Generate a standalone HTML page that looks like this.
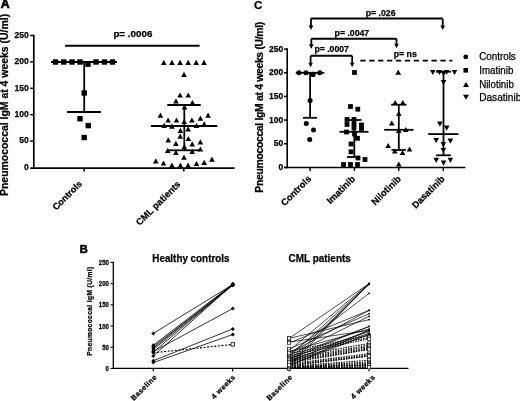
<!DOCTYPE html>
<html><head><meta charset="utf-8"><style>
html,body{margin:0;padding:0;background:#fff;width:520px;height:401px;overflow:hidden}
svg{display:block;filter:grayscale(1)}
text{font-family:"Liberation Sans", sans-serif;fill:#000;stroke:#000;stroke-width:0.25px}
</style></head><body>
<svg width="520" height="401" viewBox="0 0 520 401">
<rect width="520" height="401" fill="#fff"/>
<text x="0.70" y="8.10" font-size="12.2" font-weight="bold" text-anchor="start" style="stroke-width:0.7px">A</text>
<text transform="translate(7.90,196.00) rotate(-90)" font-size="10.45" font-weight="bold" text-anchor="start">Pneumococcal IgM at 4 weeks (U/ml)</text>
<line x1="33.80" y1="34.70" x2="33.80" y2="169.00" stroke="#000" stroke-width="1.7" stroke-linecap="butt"/>
<line x1="30.20" y1="168.10" x2="234.60" y2="168.10" stroke="#000" stroke-width="1.9" stroke-linecap="butt"/>
<text x="28.70" y="169.80" font-size="8.5" font-weight="bold" text-anchor="end">0</text>
<line x1="30.20" y1="141.10" x2="33.80" y2="141.10" stroke="#000" stroke-width="1.5" stroke-linecap="butt"/>
<text x="28.70" y="143.40" font-size="8.5" font-weight="bold" text-anchor="end">50</text>
<line x1="30.20" y1="114.70" x2="33.80" y2="114.70" stroke="#000" stroke-width="1.5" stroke-linecap="butt"/>
<text x="28.70" y="117.00" font-size="8.5" font-weight="bold" text-anchor="end">100</text>
<line x1="30.20" y1="88.30" x2="33.80" y2="88.30" stroke="#000" stroke-width="1.5" stroke-linecap="butt"/>
<text x="28.70" y="90.60" font-size="8.5" font-weight="bold" text-anchor="end">150</text>
<line x1="30.20" y1="61.90" x2="33.80" y2="61.90" stroke="#000" stroke-width="1.5" stroke-linecap="butt"/>
<text x="28.70" y="64.20" font-size="8.5" font-weight="bold" text-anchor="end">200</text>
<line x1="30.20" y1="35.50" x2="33.80" y2="35.50" stroke="#000" stroke-width="1.5" stroke-linecap="butt"/>
<text x="28.70" y="37.80" font-size="8.5" font-weight="bold" text-anchor="end">250</text>
<line x1="84.20" y1="168.00" x2="84.20" y2="171.60" stroke="#000" stroke-width="1.6" stroke-linecap="butt"/>
<line x1="183.80" y1="168.00" x2="183.80" y2="171.60" stroke="#000" stroke-width="1.6" stroke-linecap="butt"/>
<text transform="translate(82.60,184.40) rotate(-45)" font-size="9.1" font-weight="bold" text-anchor="end">Controls</text>
<text transform="translate(181.00,184.80) rotate(-45)" font-size="9.3" font-weight="bold" text-anchor="end">CML patients</text>
<line x1="65.00" y1="45.70" x2="199.60" y2="45.70" stroke="#000" stroke-width="1.9" stroke-linecap="butt"/>
<text x="113.40" y="37.20" font-size="9.8" font-weight="bold" text-anchor="start">p= .0006</text>
<line x1="51.00" y1="62.00" x2="117.00" y2="62.00" stroke="#000" stroke-width="1.8" stroke-linecap="butt"/>
<line x1="84.20" y1="62.00" x2="84.20" y2="112.00" stroke="#000" stroke-width="1.8" stroke-linecap="butt"/>
<line x1="67.00" y1="112.00" x2="100.80" y2="112.00" stroke="#000" stroke-width="1.8" stroke-linecap="butt"/>
<rect x="52.80" y="59.30" width="5.4" height="5.4"/>
<rect x="61.05" y="59.30" width="5.4" height="5.4"/>
<rect x="69.30" y="59.30" width="5.4" height="5.4"/>
<rect x="77.30" y="59.30" width="5.4" height="5.4"/>
<rect x="93.30" y="59.30" width="5.4" height="5.4"/>
<rect x="101.80" y="59.30" width="5.4" height="5.4"/>
<rect x="109.80" y="59.30" width="5.4" height="5.4"/>
<rect x="85.30" y="61.50" width="5.4" height="5.4"/>
<rect x="81.50" y="90.30" width="5.4" height="5.4"/>
<rect x="77.30" y="116.05" width="5.4" height="5.4"/>
<rect x="85.55" y="122.90" width="5.4" height="5.4"/>
<rect x="81.50" y="134.80" width="5.4" height="5.4"/>
<line x1="167.30" y1="105.00" x2="200.70" y2="105.00" stroke="#000" stroke-width="1.8" stroke-linecap="butt"/>
<line x1="150.80" y1="126.00" x2="217.30" y2="126.00" stroke="#000" stroke-width="1.8" stroke-linecap="butt"/>
<line x1="168.00" y1="150.30" x2="200.00" y2="150.30" stroke="#000" stroke-width="1.8" stroke-linecap="butt"/>
<line x1="184.30" y1="105.00" x2="184.30" y2="150.30" stroke="#000" stroke-width="1.8" stroke-linecap="butt"/>
<path d="M161.00 64.90L163.80 59.70L166.60 64.90Z"/>
<path d="M169.10 64.90L171.90 59.70L174.70 64.90Z"/>
<path d="M177.30 64.90L180.10 59.70L182.90 64.90Z"/>
<path d="M185.40 64.90L188.20 59.70L191.00 64.90Z"/>
<path d="M193.40 64.90L196.20 59.70L199.00 64.90Z"/>
<path d="M201.20 64.90L204.00 59.70L206.80 64.90Z"/>
<path d="M181.20 76.90L184.00 71.70L186.80 76.90Z"/>
<path d="M177.30 97.60L180.10 92.40L182.90 97.60Z"/>
<path d="M185.40 97.60L188.20 92.40L191.00 97.60Z"/>
<path d="M173.20 103.40L176.00 98.20L178.80 103.40Z"/>
<path d="M189.60 105.10L192.40 99.90L195.20 105.10Z"/>
<path d="M181.70 109.50L184.50 104.30L187.30 109.50Z"/>
<path d="M157.60 117.70L160.40 112.50L163.20 117.70Z"/>
<path d="M205.30 117.70L208.10 112.50L210.90 117.70Z"/>
<path d="M165.30 122.60L168.10 117.40L170.90 122.60Z"/>
<path d="M173.70 122.60L176.50 117.40L179.30 122.60Z"/>
<path d="M189.10 122.60L191.90 117.40L194.70 122.60Z"/>
<path d="M197.60 120.80L200.40 115.60L203.20 120.80Z"/>
<path d="M181.40 124.10L184.20 118.90L187.00 124.10Z"/>
<path d="M161.40 128.00L164.20 122.80L167.00 128.00Z"/>
<path d="M169.10 128.80L171.90 123.60L174.70 128.80Z"/>
<path d="M193.70 128.00L196.50 122.80L199.30 128.00Z"/>
<path d="M201.40 126.40L204.20 121.20L207.00 126.40Z"/>
<path d="M177.60 132.90L180.40 127.70L183.20 132.90Z"/>
<path d="M185.30 131.40L188.10 126.20L190.90 131.40Z"/>
<path d="M177.40 138.70L180.20 133.50L183.00 138.70Z"/>
<path d="M185.60 141.10L188.40 135.90L191.20 141.10Z"/>
<path d="M165.40 142.50L168.20 137.30L171.00 142.50Z"/>
<path d="M173.10 145.90L175.90 140.70L178.70 145.90Z"/>
<path d="M189.40 146.40L192.20 141.20L195.00 146.40Z"/>
<path d="M197.60 144.40L200.40 139.20L203.20 144.40Z"/>
<path d="M181.50 149.20L184.30 144.00L187.10 149.20Z"/>
<path d="M164.90 153.10L167.70 147.90L170.50 153.10Z"/>
<path d="M173.10 155.00L175.90 149.80L178.70 155.00Z"/>
<path d="M189.40 154.00L192.20 148.80L195.00 154.00Z"/>
<path d="M197.60 151.60L200.40 146.40L203.20 151.60Z"/>
<path d="M181.20 159.80L184.00 154.60L186.80 159.80Z"/>
<path d="M153.00 163.40L155.80 158.20L158.60 163.40Z"/>
<path d="M160.70 165.60L163.50 160.40L166.30 165.60Z"/>
<path d="M169.10 167.80L171.90 162.60L174.70 167.80Z"/>
<path d="M177.60 167.80L180.40 162.60L183.20 167.80Z"/>
<path d="M185.30 167.80L188.10 162.60L190.90 167.80Z"/>
<path d="M193.70 166.10L196.50 160.90L199.30 166.10Z"/>
<path d="M201.40 164.90L204.20 159.70L207.00 164.90Z"/>
<path d="M209.10 161.80L211.90 156.60L214.70 161.80Z"/>
<text x="254.00" y="9.20" font-size="11.6" font-weight="bold" text-anchor="start">C</text>
<text transform="translate(263.10,192.70) rotate(-90)" font-size="10.4" font-weight="bold" text-anchor="start" textLength="171" lengthAdjust="spacing">Pneumococcal IgM at 4 weeks (U/ml)</text>
<line x1="287.20" y1="48.30" x2="287.20" y2="168.30" stroke="#000" stroke-width="1.6" stroke-linecap="butt"/>
<line x1="284.00" y1="167.50" x2="465.40" y2="167.50" stroke="#000" stroke-width="1.6" stroke-linecap="butt"/>
<line x1="284.00" y1="167.40" x2="287.20" y2="167.40" stroke="#000" stroke-width="1.5" stroke-linecap="butt"/>
<text x="283.30" y="170.10" font-size="8.5" font-weight="bold" text-anchor="end">0</text>
<line x1="284.00" y1="143.74" x2="287.20" y2="143.74" stroke="#000" stroke-width="1.5" stroke-linecap="butt"/>
<text x="283.30" y="146.44" font-size="8.5" font-weight="bold" text-anchor="end">50</text>
<line x1="284.00" y1="120.08" x2="287.20" y2="120.08" stroke="#000" stroke-width="1.5" stroke-linecap="butt"/>
<text x="283.30" y="122.78" font-size="8.5" font-weight="bold" text-anchor="end">100</text>
<line x1="284.00" y1="96.42" x2="287.20" y2="96.42" stroke="#000" stroke-width="1.5" stroke-linecap="butt"/>
<text x="283.30" y="99.12" font-size="8.5" font-weight="bold" text-anchor="end">150</text>
<line x1="284.00" y1="72.76" x2="287.20" y2="72.76" stroke="#000" stroke-width="1.5" stroke-linecap="butt"/>
<text x="283.30" y="75.46" font-size="8.5" font-weight="bold" text-anchor="end">200</text>
<line x1="284.00" y1="49.10" x2="287.20" y2="49.10" stroke="#000" stroke-width="1.5" stroke-linecap="butt"/>
<text x="283.30" y="51.80" font-size="8.5" font-weight="bold" text-anchor="end">250</text>
<line x1="310.10" y1="167.50" x2="310.10" y2="171.00" stroke="#000" stroke-width="1.4" stroke-linecap="butt"/>
<line x1="354.40" y1="167.50" x2="354.40" y2="171.00" stroke="#000" stroke-width="1.4" stroke-linecap="butt"/>
<line x1="398.80" y1="167.50" x2="398.80" y2="171.00" stroke="#000" stroke-width="1.4" stroke-linecap="butt"/>
<line x1="443.30" y1="167.50" x2="443.30" y2="171.00" stroke="#000" stroke-width="1.4" stroke-linecap="butt"/>
<text transform="translate(311.80,179.40) rotate(-45)" font-size="9.3" font-weight="bold" text-anchor="end">Controls</text>
<text transform="translate(355.70,179.40) rotate(-45)" font-size="9.3" font-weight="bold" text-anchor="end">Imatinib</text>
<text transform="translate(401.50,179.40) rotate(-45)" font-size="9.3" font-weight="bold" text-anchor="end">Nilotinib</text>
<text transform="translate(445.30,179.40) rotate(-45)" font-size="9.3" font-weight="bold" text-anchor="end">Dasatinib</text>
<line x1="311.00" y1="18.50" x2="442.70" y2="18.50" stroke="#000" stroke-width="1.9" stroke-linecap="butt"/>
<line x1="311.00" y1="18.50" x2="311.00" y2="25.90" stroke="#000" stroke-width="1.8" stroke-linecap="butt"/>
<path d="M308.70 25.40L311.00 30.00L313.30 25.40Z"/>
<line x1="442.70" y1="18.50" x2="442.70" y2="25.90" stroke="#000" stroke-width="1.8" stroke-linecap="butt"/>
<path d="M440.40 25.40L442.70 30.00L445.00 25.40Z"/>
<line x1="311.30" y1="38.70" x2="396.50" y2="38.70" stroke="#000" stroke-width="1.9" stroke-linecap="butt"/>
<line x1="311.30" y1="38.70" x2="311.30" y2="44.70" stroke="#000" stroke-width="1.8" stroke-linecap="butt"/>
<path d="M309.00 44.20L311.30 48.80L313.60 44.20Z"/>
<line x1="396.50" y1="38.70" x2="396.50" y2="44.20" stroke="#000" stroke-width="1.8" stroke-linecap="butt"/>
<path d="M394.20 43.70L396.50 48.30L398.80 43.70Z"/>
<line x1="310.60" y1="55.80" x2="352.20" y2="55.80" stroke="#000" stroke-width="1.9" stroke-linecap="butt"/>
<line x1="310.60" y1="55.80" x2="310.60" y2="63.20" stroke="#000" stroke-width="1.8" stroke-linecap="butt"/>
<path d="M308.30 62.70L310.60 67.30L312.90 62.70Z"/>
<line x1="352.20" y1="55.80" x2="352.20" y2="63.20" stroke="#000" stroke-width="1.8" stroke-linecap="butt"/>
<path d="M349.90 62.70L352.20 67.30L354.50 62.70Z"/>
<text x="365.80" y="15.60" font-size="8.7" font-weight="bold" text-anchor="start">p= .026</text>
<text x="334.60" y="35.80" font-size="8.7" font-weight="bold" text-anchor="start">p= .0047</text>
<text x="314.40" y="52.10" font-size="8.7" font-weight="bold" text-anchor="start">p= .0007</text>
<text x="393.80" y="57.00" font-size="8.7" font-weight="bold" text-anchor="start">p= ns</text>
<line x1="360.30" y1="60.70" x2="452.40" y2="60.70" stroke="#000" stroke-width="1.8" stroke-linecap="butt" stroke-dasharray="5.3,3.6"/>
<line x1="295.80" y1="72.80" x2="324.40" y2="72.80" stroke="#000" stroke-width="1.8" stroke-linecap="butt"/>
<line x1="310.10" y1="72.80" x2="310.10" y2="117.80" stroke="#000" stroke-width="1.8" stroke-linecap="butt"/>
<line x1="302.90" y1="117.80" x2="317.00" y2="117.80" stroke="#000" stroke-width="1.8" stroke-linecap="butt"/>
<circle cx="298.9" cy="72.8" r="2.5"/>
<circle cx="305.9" cy="72.8" r="2.5"/>
<circle cx="319.8" cy="72.8" r="2.5"/>
<circle cx="313" cy="74.4" r="2.7"/>
<circle cx="310.1" cy="100.4" r="2.5"/>
<circle cx="306.3" cy="123.5" r="2.5"/>
<circle cx="313.5" cy="130" r="2.5"/>
<circle cx="309.7" cy="139.6" r="2.5"/>
<line x1="347.00" y1="120.00" x2="361.50" y2="120.00" stroke="#000" stroke-width="1.8" stroke-linecap="butt"/>
<line x1="339.50" y1="131.80" x2="368.50" y2="131.80" stroke="#000" stroke-width="1.8" stroke-linecap="butt"/>
<line x1="347.00" y1="157.00" x2="359.00" y2="157.00" stroke="#000" stroke-width="1.8" stroke-linecap="butt"/>
<line x1="354.30" y1="120.00" x2="354.30" y2="157.00" stroke="#000" stroke-width="1.8" stroke-linecap="butt"/>
<rect x="352.10" y="70.10" width="4.8" height="4.8"/>
<rect x="348.10" y="104.10" width="4.8" height="4.8"/>
<rect x="355.40" y="106.80" width="4.8" height="4.8"/>
<rect x="344.60" y="117.10" width="4.8" height="4.8"/>
<rect x="351.60" y="117.10" width="4.8" height="4.8"/>
<rect x="344.60" y="122.10" width="4.8" height="4.8"/>
<rect x="351.60" y="121.60" width="4.8" height="4.8"/>
<rect x="351.60" y="125.60" width="4.8" height="4.8"/>
<rect x="359.10" y="122.60" width="4.8" height="4.8"/>
<rect x="359.10" y="126.10" width="4.8" height="4.8"/>
<rect x="344.10" y="129.60" width="4.8" height="4.8"/>
<rect x="352.10" y="131.60" width="4.8" height="4.8"/>
<rect x="355.10" y="135.90" width="4.8" height="4.8"/>
<rect x="348.60" y="141.60" width="4.8" height="4.8"/>
<rect x="348.60" y="149.40" width="4.8" height="4.8"/>
<rect x="355.60" y="155.60" width="4.8" height="4.8"/>
<rect x="362.60" y="157.10" width="4.8" height="4.8"/>
<rect x="341.10" y="162.10" width="4.8" height="4.8"/>
<rect x="348.10" y="162.10" width="4.8" height="4.8"/>
<rect x="355.10" y="162.10" width="4.8" height="4.8"/>
<line x1="391.20" y1="104.70" x2="406.50" y2="104.70" stroke="#000" stroke-width="1.8" stroke-linecap="butt"/>
<line x1="384.20" y1="129.80" x2="413.50" y2="129.80" stroke="#000" stroke-width="1.8" stroke-linecap="butt"/>
<line x1="391.50" y1="150.00" x2="405.80" y2="150.00" stroke="#000" stroke-width="1.8" stroke-linecap="butt"/>
<line x1="398.80" y1="104.70" x2="398.80" y2="150.00" stroke="#000" stroke-width="1.8" stroke-linecap="butt"/>
<path d="M395.40 74.70L398.20 69.50L401.00 74.70Z"/>
<path d="M392.40 105.10L395.20 99.90L398.00 105.10Z"/>
<path d="M400.00 105.10L402.80 99.90L405.60 105.10Z"/>
<path d="M396.00 116.10L398.80 110.90L401.60 116.10Z"/>
<path d="M389.00 125.60L391.80 120.40L394.60 125.60Z"/>
<path d="M403.00 132.10L405.80 126.90L408.60 132.10Z"/>
<path d="M396.00 133.10L398.80 127.90L401.60 133.10Z"/>
<path d="M385.40 148.10L388.20 142.90L391.00 148.10Z"/>
<path d="M392.00 153.60L394.80 148.40L397.60 153.60Z"/>
<path d="M399.70 155.10L402.50 149.90L405.30 155.10Z"/>
<path d="M406.70 151.60L409.50 146.40L412.30 151.60Z"/>
<path d="M396.00 166.60L398.80 161.40L401.60 166.60Z"/>
<line x1="436.00" y1="71.70" x2="451.00" y2="71.70" stroke="#000" stroke-width="1.8" stroke-linecap="butt"/>
<line x1="428.20" y1="134.10" x2="458.40" y2="134.10" stroke="#000" stroke-width="1.8" stroke-linecap="butt"/>
<line x1="436.20" y1="155.30" x2="450.80" y2="155.30" stroke="#000" stroke-width="1.8" stroke-linecap="butt"/>
<line x1="443.50" y1="71.70" x2="443.50" y2="155.30" stroke="#000" stroke-width="1.8" stroke-linecap="butt"/>
<path d="M430.00 69.90L432.80 75.10L435.60 69.90Z"/>
<path d="M436.70 69.90L439.50 75.10L442.30 69.90Z"/>
<path d="M443.70 69.90L446.50 75.10L449.30 69.90Z"/>
<path d="M451.70 69.90L454.50 75.10L457.30 69.90Z"/>
<path d="M440.70 70.90L443.50 76.10L446.30 70.90Z"/>
<path d="M440.70 79.90L443.50 85.10L446.30 79.90Z"/>
<path d="M437.10 121.50L439.90 126.70L442.70 121.50Z"/>
<path d="M443.90 125.60L446.70 130.80L449.50 125.60Z"/>
<path d="M433.40 137.90L436.20 143.10L439.00 137.90Z"/>
<path d="M447.60 138.60L450.40 143.80L453.20 138.60Z"/>
<path d="M440.50 142.10L443.30 147.30L446.10 142.10Z"/>
<path d="M440.50 147.90L443.30 153.10L446.10 147.90Z"/>
<path d="M433.40 157.80L436.20 163.00L439.00 157.80Z"/>
<path d="M440.80 160.60L443.60 165.80L446.40 160.60Z"/>
<path d="M447.60 157.80L450.40 163.00L453.20 157.80Z"/>
<circle cx="465.75" cy="56.9" r="2.4"/>
<text x="479.20" y="60.40" font-size="10.1" text-anchor="start" textLength="36.6" lengthAdjust="spacingAndGlyphs">Controls</text>
<rect x="463.45" y="68.00" width="4.6" height="4.6"/>
<text x="479.20" y="73.70" font-size="10.1" text-anchor="start" textLength="34.2" lengthAdjust="spacingAndGlyphs">Imatinib</text>
<path d="M463.00 87.00L466.00 82.00L469.00 87.00Z"/>
<text x="479.20" y="87.80" font-size="10.1" text-anchor="start" textLength="34.6" lengthAdjust="spacingAndGlyphs">Nilotinib</text>
<path d="M463.00 94.70L466.00 99.70L469.00 94.70Z"/>
<text x="479.20" y="100.50" font-size="10.1" text-anchor="start">Dasatinib</text>
<text x="79.60" y="252.70" font-size="11.6" font-weight="bold" text-anchor="start" style="stroke-width:0.45px">B</text>
<text transform="translate(92.20,355.80) rotate(-90)" font-size="6.6" font-weight="bold" text-anchor="start" letter-spacing="0.4">Pneumococcal IgM (U/ml)</text>
<line x1="113.30" y1="261.77" x2="113.30" y2="368.90" stroke="#000" stroke-width="1.3" stroke-linecap="butt"/>
<line x1="113.30" y1="368.30" x2="408.40" y2="368.30" stroke="#000" stroke-width="1.3" stroke-linecap="butt"/>
<line x1="110.60" y1="368.50" x2="113.30" y2="368.50" stroke="#000" stroke-width="1.1" stroke-linecap="butt"/>
<text transform="translate(108.9,371.00) scale(0.86,1)" font-size="7" font-weight="bold" text-anchor="end">0</text>
<line x1="110.60" y1="347.27" x2="113.30" y2="347.27" stroke="#000" stroke-width="1.1" stroke-linecap="butt"/>
<text transform="translate(108.9,349.77) scale(0.86,1)" font-size="7" font-weight="bold" text-anchor="end">50</text>
<line x1="110.60" y1="326.05" x2="113.30" y2="326.05" stroke="#000" stroke-width="1.1" stroke-linecap="butt"/>
<text transform="translate(108.9,328.55) scale(0.86,1)" font-size="7" font-weight="bold" text-anchor="end">100</text>
<line x1="110.60" y1="304.82" x2="113.30" y2="304.82" stroke="#000" stroke-width="1.1" stroke-linecap="butt"/>
<text transform="translate(108.9,307.32) scale(0.86,1)" font-size="7" font-weight="bold" text-anchor="end">150</text>
<line x1="110.60" y1="283.60" x2="113.30" y2="283.60" stroke="#000" stroke-width="1.1" stroke-linecap="butt"/>
<text transform="translate(108.9,286.10) scale(0.86,1)" font-size="7" font-weight="bold" text-anchor="end">200</text>
<line x1="110.60" y1="262.38" x2="113.30" y2="262.38" stroke="#000" stroke-width="1.1" stroke-linecap="butt"/>
<text transform="translate(108.9,264.88) scale(0.86,1)" font-size="7" font-weight="bold" text-anchor="end">250</text>
<line x1="153.30" y1="368.30" x2="153.30" y2="371.60" stroke="#000" stroke-width="1.1" stroke-linecap="butt"/>
<line x1="232.60" y1="368.30" x2="232.60" y2="371.60" stroke="#000" stroke-width="1.1" stroke-linecap="butt"/>
<line x1="289.10" y1="368.30" x2="289.10" y2="371.60" stroke="#000" stroke-width="1.1" stroke-linecap="butt"/>
<line x1="369.10" y1="368.30" x2="369.10" y2="371.60" stroke="#000" stroke-width="1.1" stroke-linecap="butt"/>
<text x="152.30" y="261.50" font-size="10.4" font-weight="bold" text-anchor="start" textLength="77.2" lengthAdjust="spacingAndGlyphs">Healthy controls</text>
<text x="288.60" y="261.70" font-size="10.4" font-weight="bold" text-anchor="start" textLength="62.2" lengthAdjust="spacingAndGlyphs">CML patients</text>
<text transform="translate(157.30,377.60) rotate(-45)" font-size="7.3" font-weight="bold" text-anchor="end" letter-spacing="0.4">Baseline</text>
<text transform="translate(236.00,377.60) rotate(-45)" font-size="7.3" font-weight="bold" text-anchor="end" letter-spacing="0.4">4 weeks</text>
<text transform="translate(293.00,377.60) rotate(-45)" font-size="7.3" font-weight="bold" text-anchor="end" letter-spacing="0.4">Baseline</text>
<text transform="translate(375.60,377.60) rotate(-45)" font-size="7.3" font-weight="bold" text-anchor="end" letter-spacing="0.4">4 weeks</text>
<line x1="153.40" y1="333.40" x2="232.80" y2="284.50" stroke="#000" stroke-width="0.8" stroke-linecap="butt"/>
<line x1="153.40" y1="345.20" x2="232.80" y2="284.00" stroke="#000" stroke-width="0.8" stroke-linecap="butt"/>
<line x1="153.40" y1="346.60" x2="232.80" y2="285.00" stroke="#000" stroke-width="0.8" stroke-linecap="butt"/>
<line x1="153.40" y1="348.00" x2="232.80" y2="284.30" stroke="#000" stroke-width="0.8" stroke-linecap="butt"/>
<line x1="153.40" y1="349.40" x2="232.80" y2="285.30" stroke="#000" stroke-width="0.8" stroke-linecap="butt"/>
<line x1="153.40" y1="351.50" x2="232.80" y2="308.50" stroke="#000" stroke-width="0.8" stroke-linecap="butt"/>
<line x1="153.40" y1="352.00" x2="232.80" y2="284.80" stroke="#000" stroke-width="0.8" stroke-linecap="butt"/>
<line x1="153.40" y1="355.90" x2="232.80" y2="284.20" stroke="#000" stroke-width="0.8" stroke-linecap="butt"/>
<line x1="153.40" y1="360.70" x2="232.80" y2="328.90" stroke="#000" stroke-width="0.8" stroke-linecap="butt"/>
<line x1="153.40" y1="362.60" x2="232.80" y2="334.50" stroke="#000" stroke-width="0.8" stroke-linecap="butt"/>
<line x1="153.40" y1="352.80" x2="232.80" y2="344.40" stroke="#000" stroke-width="1.1" stroke-linecap="butt" stroke-dasharray="2,1.6"/>
<path d="M151.40 333.40L153.40 331.40L155.40 333.40L153.40 335.40Z"/>
<path d="M230.80 284.50L232.80 282.50L234.80 284.50L232.80 286.50Z"/>
<path d="M151.40 345.20L153.40 343.20L155.40 345.20L153.40 347.20Z"/>
<path d="M230.80 284.00L232.80 282.00L234.80 284.00L232.80 286.00Z"/>
<path d="M151.40 346.60L153.40 344.60L155.40 346.60L153.40 348.60Z"/>
<path d="M230.80 285.00L232.80 283.00L234.80 285.00L232.80 287.00Z"/>
<path d="M151.40 348.00L153.40 346.00L155.40 348.00L153.40 350.00Z"/>
<path d="M230.80 284.30L232.80 282.30L234.80 284.30L232.80 286.30Z"/>
<path d="M151.40 349.40L153.40 347.40L155.40 349.40L153.40 351.40Z"/>
<path d="M230.80 285.30L232.80 283.30L234.80 285.30L232.80 287.30Z"/>
<path d="M151.40 351.50L153.40 349.50L155.40 351.50L153.40 353.50Z"/>
<path d="M230.80 308.50L232.80 306.50L234.80 308.50L232.80 310.50Z"/>
<path d="M151.40 352.00L153.40 350.00L155.40 352.00L153.40 354.00Z"/>
<path d="M230.80 284.80L232.80 282.80L234.80 284.80L232.80 286.80Z"/>
<path d="M151.40 355.90L153.40 353.90L155.40 355.90L153.40 357.90Z"/>
<path d="M230.80 284.20L232.80 282.20L234.80 284.20L232.80 286.20Z"/>
<path d="M151.40 360.70L153.40 358.70L155.40 360.70L153.40 362.70Z"/>
<path d="M230.80 328.90L232.80 326.90L234.80 328.90L232.80 330.90Z"/>
<path d="M151.40 362.60L153.40 360.60L155.40 362.60L153.40 364.60Z"/>
<path d="M230.80 334.50L232.80 332.50L234.80 334.50L232.80 336.50Z"/>
<rect x="231.10" y="342.70" width="3.4" height="3.4" fill="#fff" stroke="#000" stroke-width="0.8"/>
<path d="M151.40 352.80L153.40 350.80L155.40 352.80L153.40 354.80Z"/>
<line x1="289.10" y1="351.52" x2="369.10" y2="335.39" stroke="#000" stroke-width="1.1" stroke-linecap="butt" stroke-dasharray="1.5,1.1"/>
<line x1="289.10" y1="353.64" x2="369.10" y2="337.51" stroke="#000" stroke-width="1.1" stroke-linecap="butt" stroke-dasharray="1.5,1.1"/>
<line x1="289.10" y1="355.76" x2="369.10" y2="338.79" stroke="#000" stroke-width="1.1" stroke-linecap="butt" stroke-dasharray="1.5,1.1"/>
<line x1="289.10" y1="357.46" x2="369.10" y2="343.45" stroke="#000" stroke-width="1.1" stroke-linecap="butt" stroke-dasharray="1.5,1.1"/>
<line x1="289.10" y1="359.16" x2="369.10" y2="345.15" stroke="#000" stroke-width="1.1" stroke-linecap="butt" stroke-dasharray="1.5,1.1"/>
<line x1="289.10" y1="360.43" x2="369.10" y2="346.43" stroke="#000" stroke-width="1.1" stroke-linecap="butt" stroke-dasharray="1.5,1.1"/>
<line x1="289.10" y1="361.28" x2="369.10" y2="347.70" stroke="#000" stroke-width="1.1" stroke-linecap="butt" stroke-dasharray="1.5,1.1"/>
<line x1="289.10" y1="362.13" x2="369.10" y2="348.97" stroke="#000" stroke-width="1.1" stroke-linecap="butt" stroke-dasharray="1.5,1.1"/>
<line x1="289.10" y1="362.98" x2="369.10" y2="349.40" stroke="#000" stroke-width="1.1" stroke-linecap="butt" stroke-dasharray="1.5,1.1"/>
<line x1="289.10" y1="363.83" x2="369.10" y2="353.64" stroke="#000" stroke-width="1.1" stroke-linecap="butt" stroke-dasharray="1.5,1.1"/>
<line x1="289.10" y1="364.68" x2="369.10" y2="354.92" stroke="#000" stroke-width="1.1" stroke-linecap="butt" stroke-dasharray="1.5,1.1"/>
<line x1="289.10" y1="365.53" x2="369.10" y2="355.76" stroke="#000" stroke-width="1.1" stroke-linecap="butt" stroke-dasharray="1.5,1.1"/>
<line x1="289.10" y1="365.95" x2="369.10" y2="356.19" stroke="#000" stroke-width="1.1" stroke-linecap="butt" stroke-dasharray="1.5,1.1"/>
<line x1="289.10" y1="366.38" x2="369.10" y2="360.22" stroke="#000" stroke-width="1.1" stroke-linecap="butt" stroke-dasharray="1.5,1.1"/>
<line x1="289.10" y1="366.80" x2="369.10" y2="361.84" stroke="#000" stroke-width="1.1" stroke-linecap="butt" stroke-dasharray="1.5,1.1"/>
<line x1="289.10" y1="367.23" x2="369.10" y2="363.11" stroke="#000" stroke-width="1.1" stroke-linecap="butt" stroke-dasharray="1.5,1.1"/>
<line x1="289.10" y1="367.44" x2="369.10" y2="364.34" stroke="#000" stroke-width="1.1" stroke-linecap="butt" stroke-dasharray="1.5,1.1"/>
<line x1="289.10" y1="367.65" x2="369.10" y2="364.89" stroke="#000" stroke-width="1.1" stroke-linecap="butt" stroke-dasharray="1.5,1.1"/>
<line x1="289.10" y1="367.86" x2="369.10" y2="365.27" stroke="#000" stroke-width="1.1" stroke-linecap="butt" stroke-dasharray="1.5,1.1"/>
<line x1="289.10" y1="368.08" x2="369.10" y2="366.80" stroke="#000" stroke-width="1.1" stroke-linecap="butt" stroke-dasharray="1.5,1.1"/>
<line x1="289.10" y1="368.29" x2="369.10" y2="366.80" stroke="#000" stroke-width="1.1" stroke-linecap="butt" stroke-dasharray="1.5,1.1"/>
<line x1="289.10" y1="368.50" x2="369.10" y2="367.23" stroke="#000" stroke-width="1.1" stroke-linecap="butt" stroke-dasharray="1.5,1.1"/>
<line x1="289.10" y1="338.36" x2="369.10" y2="283.60" stroke="#000" stroke-width="0.7" stroke-linecap="butt"/>
<line x1="289.10" y1="338.36" x2="369.10" y2="319.68" stroke="#000" stroke-width="0.7" stroke-linecap="butt"/>
<line x1="289.10" y1="342.18" x2="369.10" y2="330.30" stroke="#000" stroke-width="0.7" stroke-linecap="butt"/>
<line x1="289.10" y1="343.03" x2="369.10" y2="310.34" stroke="#000" stroke-width="0.7" stroke-linecap="butt"/>
<line x1="289.10" y1="354.49" x2="369.10" y2="293.36" stroke="#000" stroke-width="0.7" stroke-linecap="butt"/>
<line x1="289.10" y1="350.67" x2="369.10" y2="283.60" stroke="#000" stroke-width="0.7" stroke-linecap="butt"/>
<line x1="289.10" y1="356.61" x2="369.10" y2="284.02" stroke="#000" stroke-width="0.7" stroke-linecap="butt"/>
<line x1="289.10" y1="360.86" x2="369.10" y2="284.45" stroke="#000" stroke-width="0.7" stroke-linecap="butt"/>
<line x1="289.10" y1="364.25" x2="369.10" y2="283.60" stroke="#000" stroke-width="0.7" stroke-linecap="butt"/>
<line x1="289.10" y1="366.80" x2="369.10" y2="283.60" stroke="#000" stroke-width="0.7" stroke-linecap="butt"/>
<line x1="289.10" y1="348.97" x2="369.10" y2="313.74" stroke="#000" stroke-width="0.7" stroke-linecap="butt"/>
<line x1="289.10" y1="351.52" x2="369.10" y2="329.02" stroke="#000" stroke-width="0.7" stroke-linecap="butt"/>
<line x1="289.10" y1="353.22" x2="369.10" y2="310.34" stroke="#000" stroke-width="0.7" stroke-linecap="butt"/>
<line x1="289.10" y1="355.76" x2="369.10" y2="316.29" stroke="#000" stroke-width="0.7" stroke-linecap="butt"/>
<line x1="289.10" y1="357.04" x2="369.10" y2="326.47" stroke="#000" stroke-width="0.7" stroke-linecap="butt"/>
<line x1="289.10" y1="358.31" x2="369.10" y2="331.57" stroke="#000" stroke-width="0.7" stroke-linecap="butt"/>
<line x1="289.10" y1="359.16" x2="369.10" y2="326.47" stroke="#000" stroke-width="0.7" stroke-linecap="butt"/>
<line x1="289.10" y1="360.43" x2="369.10" y2="333.27" stroke="#000" stroke-width="0.7" stroke-linecap="butt"/>
<line x1="289.10" y1="361.71" x2="369.10" y2="330.30" stroke="#000" stroke-width="0.7" stroke-linecap="butt"/>
<line x1="289.10" y1="362.56" x2="369.10" y2="334.54" stroke="#000" stroke-width="0.7" stroke-linecap="butt"/>
<line x1="289.10" y1="365.95" x2="369.10" y2="330.30" stroke="#000" stroke-width="0.7" stroke-linecap="butt"/>
<line x1="289.10" y1="365.10" x2="369.10" y2="334.54" stroke="#000" stroke-width="0.7" stroke-linecap="butt"/>
<rect x="287.50" y="349.92" width="3.2" height="3.2" fill="#fff" stroke="#000" stroke-width="0.6"/>
<rect x="367.50" y="333.79" width="3.2" height="3.2" fill="#fff" stroke="#000" stroke-width="0.6"/>
<rect x="287.50" y="352.04" width="3.2" height="3.2" fill="#fff" stroke="#000" stroke-width="0.6"/>
<rect x="367.50" y="335.91" width="3.2" height="3.2" fill="#fff" stroke="#000" stroke-width="0.6"/>
<rect x="287.50" y="354.16" width="3.2" height="3.2" fill="#fff" stroke="#000" stroke-width="0.6"/>
<rect x="367.50" y="337.19" width="3.2" height="3.2" fill="#fff" stroke="#000" stroke-width="0.6"/>
<rect x="287.50" y="355.86" width="3.2" height="3.2" fill="#fff" stroke="#000" stroke-width="0.6"/>
<rect x="367.50" y="341.85" width="3.2" height="3.2" fill="#fff" stroke="#000" stroke-width="0.6"/>
<rect x="287.50" y="357.56" width="3.2" height="3.2" fill="#fff" stroke="#000" stroke-width="0.6"/>
<rect x="367.50" y="343.55" width="3.2" height="3.2" fill="#fff" stroke="#000" stroke-width="0.6"/>
<rect x="287.50" y="358.83" width="3.2" height="3.2" fill="#fff" stroke="#000" stroke-width="0.6"/>
<rect x="367.50" y="344.83" width="3.2" height="3.2" fill="#fff" stroke="#000" stroke-width="0.6"/>
<rect x="287.50" y="359.68" width="3.2" height="3.2" fill="#fff" stroke="#000" stroke-width="0.6"/>
<rect x="367.50" y="346.10" width="3.2" height="3.2" fill="#fff" stroke="#000" stroke-width="0.6"/>
<rect x="287.50" y="360.53" width="3.2" height="3.2" fill="#fff" stroke="#000" stroke-width="0.6"/>
<rect x="367.50" y="347.37" width="3.2" height="3.2" fill="#fff" stroke="#000" stroke-width="0.6"/>
<rect x="287.50" y="361.38" width="3.2" height="3.2" fill="#fff" stroke="#000" stroke-width="0.6"/>
<rect x="367.50" y="347.80" width="3.2" height="3.2" fill="#fff" stroke="#000" stroke-width="0.6"/>
<rect x="287.50" y="362.23" width="3.2" height="3.2" fill="#fff" stroke="#000" stroke-width="0.6"/>
<rect x="367.50" y="352.04" width="3.2" height="3.2" fill="#fff" stroke="#000" stroke-width="0.6"/>
<rect x="287.50" y="363.08" width="3.2" height="3.2" fill="#fff" stroke="#000" stroke-width="0.6"/>
<rect x="367.50" y="353.32" width="3.2" height="3.2" fill="#fff" stroke="#000" stroke-width="0.6"/>
<rect x="287.50" y="363.93" width="3.2" height="3.2" fill="#fff" stroke="#000" stroke-width="0.6"/>
<rect x="367.50" y="354.16" width="3.2" height="3.2" fill="#fff" stroke="#000" stroke-width="0.6"/>
<rect x="287.50" y="364.35" width="3.2" height="3.2" fill="#fff" stroke="#000" stroke-width="0.6"/>
<rect x="367.50" y="354.59" width="3.2" height="3.2" fill="#fff" stroke="#000" stroke-width="0.6"/>
<rect x="287.50" y="364.78" width="3.2" height="3.2" fill="#fff" stroke="#000" stroke-width="0.6"/>
<rect x="367.50" y="358.62" width="3.2" height="3.2" fill="#fff" stroke="#000" stroke-width="0.6"/>
<rect x="287.50" y="365.20" width="3.2" height="3.2" fill="#fff" stroke="#000" stroke-width="0.6"/>
<rect x="367.50" y="360.24" width="3.2" height="3.2" fill="#fff" stroke="#000" stroke-width="0.6"/>
<rect x="287.50" y="365.63" width="3.2" height="3.2" fill="#fff" stroke="#000" stroke-width="0.6"/>
<rect x="367.50" y="361.51" width="3.2" height="3.2" fill="#fff" stroke="#000" stroke-width="0.6"/>
<rect x="287.50" y="365.84" width="3.2" height="3.2" fill="#fff" stroke="#000" stroke-width="0.6"/>
<rect x="367.50" y="362.74" width="3.2" height="3.2" fill="#fff" stroke="#000" stroke-width="0.6"/>
<rect x="287.50" y="366.05" width="3.2" height="3.2" fill="#fff" stroke="#000" stroke-width="0.6"/>
<rect x="367.50" y="363.29" width="3.2" height="3.2" fill="#fff" stroke="#000" stroke-width="0.6"/>
<rect x="287.50" y="366.26" width="3.2" height="3.2" fill="#fff" stroke="#000" stroke-width="0.6"/>
<rect x="367.50" y="363.67" width="3.2" height="3.2" fill="#fff" stroke="#000" stroke-width="0.6"/>
<rect x="287.50" y="366.48" width="3.2" height="3.2" fill="#fff" stroke="#000" stroke-width="0.6"/>
<rect x="367.50" y="365.20" width="3.2" height="3.2" fill="#fff" stroke="#000" stroke-width="0.6"/>
<rect x="287.50" y="366.69" width="3.2" height="3.2" fill="#fff" stroke="#000" stroke-width="0.6"/>
<rect x="367.50" y="365.20" width="3.2" height="3.2" fill="#fff" stroke="#000" stroke-width="0.6"/>
<rect x="287.50" y="366.90" width="3.2" height="3.2" fill="#fff" stroke="#000" stroke-width="0.6"/>
<rect x="367.50" y="365.63" width="3.2" height="3.2" fill="#fff" stroke="#000" stroke-width="0.6"/>
<rect x="287.50" y="336.76" width="3.2" height="3.2" fill="#fff" stroke="#000" stroke-width="0.6"/>
<path d="M368.00 283.60L369.10 282.50L370.20 283.60L369.10 284.70Z"/>
<rect x="287.50" y="336.76" width="3.2" height="3.2" fill="#fff" stroke="#000" stroke-width="0.6"/>
<path d="M368.00 319.68L369.10 318.58L370.20 319.68L369.10 320.78Z"/>
<rect x="287.50" y="340.58" width="3.2" height="3.2" fill="#fff" stroke="#000" stroke-width="0.6"/>
<path d="M368.00 330.30L369.10 329.19L370.20 330.30L369.10 331.40Z"/>
<rect x="287.50" y="341.43" width="3.2" height="3.2" fill="#fff" stroke="#000" stroke-width="0.6"/>
<path d="M368.00 310.34L369.10 309.24L370.20 310.34L369.10 311.44Z"/>
<rect x="287.50" y="352.89" width="3.2" height="3.2" fill="#fff" stroke="#000" stroke-width="0.6"/>
<path d="M368.00 293.36L369.10 292.26L370.20 293.36L369.10 294.46Z"/>
<rect x="287.50" y="349.07" width="3.2" height="3.2" fill="#fff" stroke="#000" stroke-width="0.6"/>
<path d="M368.00 283.60L369.10 282.50L370.20 283.60L369.10 284.70Z"/>
<rect x="287.50" y="355.01" width="3.2" height="3.2" fill="#fff" stroke="#000" stroke-width="0.6"/>
<path d="M368.00 284.02L369.10 282.92L370.20 284.02L369.10 285.12Z"/>
<rect x="287.50" y="359.26" width="3.2" height="3.2" fill="#fff" stroke="#000" stroke-width="0.6"/>
<path d="M368.00 284.45L369.10 283.35L370.20 284.45L369.10 285.55Z"/>
<rect x="287.50" y="362.65" width="3.2" height="3.2" fill="#fff" stroke="#000" stroke-width="0.6"/>
<path d="M368.00 283.60L369.10 282.50L370.20 283.60L369.10 284.70Z"/>
<rect x="287.50" y="365.20" width="3.2" height="3.2" fill="#fff" stroke="#000" stroke-width="0.6"/>
<path d="M368.00 283.60L369.10 282.50L370.20 283.60L369.10 284.70Z"/>
<rect x="287.50" y="347.37" width="3.2" height="3.2" fill="#fff" stroke="#000" stroke-width="0.6"/>
<path d="M368.00 313.74L369.10 312.64L370.20 313.74L369.10 314.84Z"/>
<rect x="287.50" y="349.92" width="3.2" height="3.2" fill="#fff" stroke="#000" stroke-width="0.6"/>
<path d="M368.00 329.02L369.10 327.92L370.20 329.02L369.10 330.12Z"/>
<rect x="287.50" y="351.62" width="3.2" height="3.2" fill="#fff" stroke="#000" stroke-width="0.6"/>
<path d="M368.00 310.34L369.10 309.24L370.20 310.34L369.10 311.44Z"/>
<rect x="287.50" y="354.16" width="3.2" height="3.2" fill="#fff" stroke="#000" stroke-width="0.6"/>
<path d="M368.00 316.29L369.10 315.19L370.20 316.29L369.10 317.39Z"/>
<rect x="287.50" y="355.44" width="3.2" height="3.2" fill="#fff" stroke="#000" stroke-width="0.6"/>
<path d="M368.00 326.47L369.10 325.37L370.20 326.47L369.10 327.57Z"/>
<rect x="287.50" y="356.71" width="3.2" height="3.2" fill="#fff" stroke="#000" stroke-width="0.6"/>
<path d="M368.00 331.57L369.10 330.47L370.20 331.57L369.10 332.67Z"/>
<rect x="287.50" y="357.56" width="3.2" height="3.2" fill="#fff" stroke="#000" stroke-width="0.6"/>
<path d="M368.00 326.47L369.10 325.37L370.20 326.47L369.10 327.57Z"/>
<rect x="287.50" y="358.83" width="3.2" height="3.2" fill="#fff" stroke="#000" stroke-width="0.6"/>
<path d="M368.00 333.27L369.10 332.17L370.20 333.27L369.10 334.37Z"/>
<rect x="287.50" y="360.11" width="3.2" height="3.2" fill="#fff" stroke="#000" stroke-width="0.6"/>
<path d="M368.00 330.30L369.10 329.19L370.20 330.30L369.10 331.40Z"/>
<rect x="287.50" y="360.96" width="3.2" height="3.2" fill="#fff" stroke="#000" stroke-width="0.6"/>
<path d="M368.00 334.54L369.10 333.44L370.20 334.54L369.10 335.64Z"/>
<rect x="287.50" y="364.35" width="3.2" height="3.2" fill="#fff" stroke="#000" stroke-width="0.6"/>
<path d="M368.00 330.30L369.10 329.19L370.20 330.30L369.10 331.40Z"/>
<rect x="287.50" y="363.50" width="3.2" height="3.2" fill="#fff" stroke="#000" stroke-width="0.6"/>
<path d="M368.00 334.54L369.10 333.44L370.20 334.54L369.10 335.64Z"/>
</svg>
</body></html>
